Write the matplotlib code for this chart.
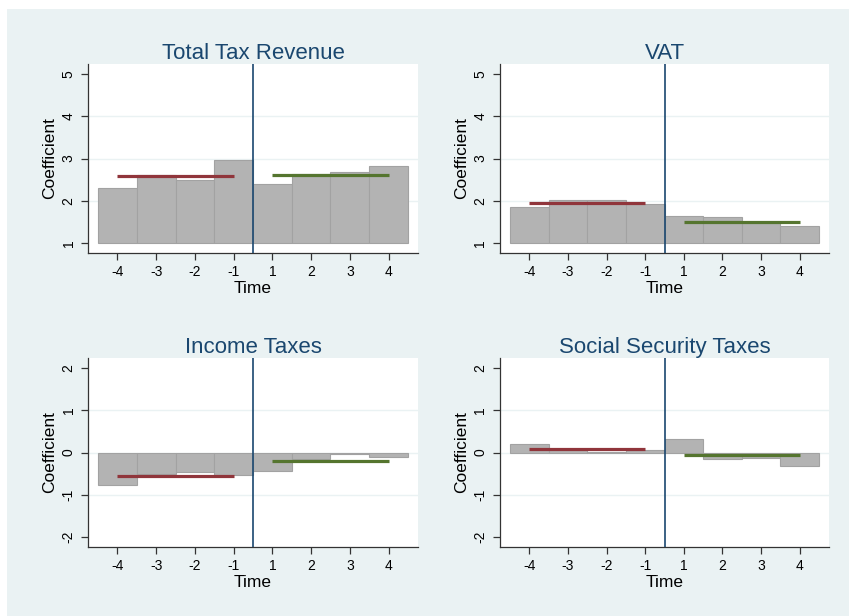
import matplotlib
matplotlib.use("Agg")
import matplotlib.pyplot as plt
from matplotlib.patches import Rectangle
import numpy as np

plt.rcParams["font.family"] = ["Liberation Sans", "DejaVu Sans"]

# Event time labels (pre and post reform).
time_labels = ["-4", "-3", "-2", "-1", "1", "2", "3", "4"]

# Estimated coefficients per event time.
total_tax = [2.29, 2.61, 2.48, 2.96, 2.39, 2.64, 2.68, 2.83]
vat = [1.84, 2.02, 2.02, 1.93, 1.63, 1.61, 1.47, 1.39]
income_tax = [-0.76, -0.51, -0.46, -0.53, -0.43, -0.15, -0.04, -0.11]
social_sec = [0.19, 0.08, 0.02, 0.07, 0.32, -0.15, -0.13, -0.31]

# Average coefficient before / after.
pre_means = [2.58, 1.95, -0.56, 0.09]
post_means = [2.60, 1.50, -0.19, -0.06]

titles = ["Total Tax Revenue", "VAT", "Income Taxes", "Social Security Taxes"]
bases = [1, 1, 0, 0]
yticks_top = [1, 2, 3, 4, 5]
yticks_bottom = [-2, -1, 0, 1, 2]

BG = "#EAF2F3"
NAVY = "#1A476F"
MAROON = "#90353B"
GREEN = "#55752F"

W, H = 849, 616
fig = plt.figure(figsize=(W / 100, H / 100), dpi=100, facecolor="white")
fig.patches.append(Rectangle((7 / W, 0), 1, 1 - 9 / H, transform=fig.transFigure,
                             facecolor=BG, edgecolor="none", zorder=-10))

# Plot regions in pixels: (x0, y0, x1, y1) measured from top-left.
boxes = [(88, 64, 418, 253), (500, 64, 829, 253),
         (88, 358, 418, 547), (500, 358, 829, 547)]

series = [total_tax, vat, income_tax, social_sec]
pos = np.arange(1, len(time_labels) + 1)

for i, (vals, title, base) in enumerate(zip(series, titles, bases)):
    x0, y0, x1, y1 = boxes[i]
    ax = fig.add_axes([x0 / W, 1 - y1 / H, (x1 - x0) / W, (y1 - y0) / H])
    ax.set_facecolor("white")

    vals = np.array(vals)
    ax.bar(pos, vals - base, bottom=base, width=1.0, color="#B3B3B3",
           edgecolor="#A2A2A2", linewidth=0.8, zorder=2)

    ax.plot([pos[0], pos[3]], [pre_means[i]] * 2, color=MAROON, lw=2.3,
            solid_capstyle="butt", zorder=3)
    ax.plot([pos[4], pos[7]], [post_means[i]] * 2, color=GREEN, lw=2.3,
            solid_capstyle="butt", zorder=3)
    ax.axvline(4.5, color=NAVY, lw=1.2, zorder=4)

    ticks = yticks_top if i < 2 else yticks_bottom
    ax.set_ylim(ticks[0] - 0.24, ticks[-1] + 0.24)
    ax.set_xlim(0.24, 8.76)
    ax.set_yticks(ticks)
    ax.set_yticklabels([str(t) for t in ticks], rotation=90, va="center")
    ax.set_xticks(pos)
    ax.set_xticklabels(time_labels)
    for t in ticks[1:-1]:
        ax.axhline(t, color=BG, lw=1.0, zorder=1)

    ax.tick_params(axis="both", direction="out", length=5, width=0.9,
                   color="#333333", labelsize=10, pad=4)
    for side in ["top", "right"]:
        ax.spines[side].set_visible(False)
    for side in ["left", "bottom"]:
        ax.spines[side].set_color("#333333")
        ax.spines[side].set_linewidth(0.9)

    ax.set_title(title, color=NAVY, fontsize=16, pad=3)
    ax.set_xlabel("Time", fontsize=12.5, labelpad=1)
    ax.set_ylabel("Coefficient", fontsize=12.5, labelpad=3)

fig.savefig("out.png", dpi=100, facecolor="white")
